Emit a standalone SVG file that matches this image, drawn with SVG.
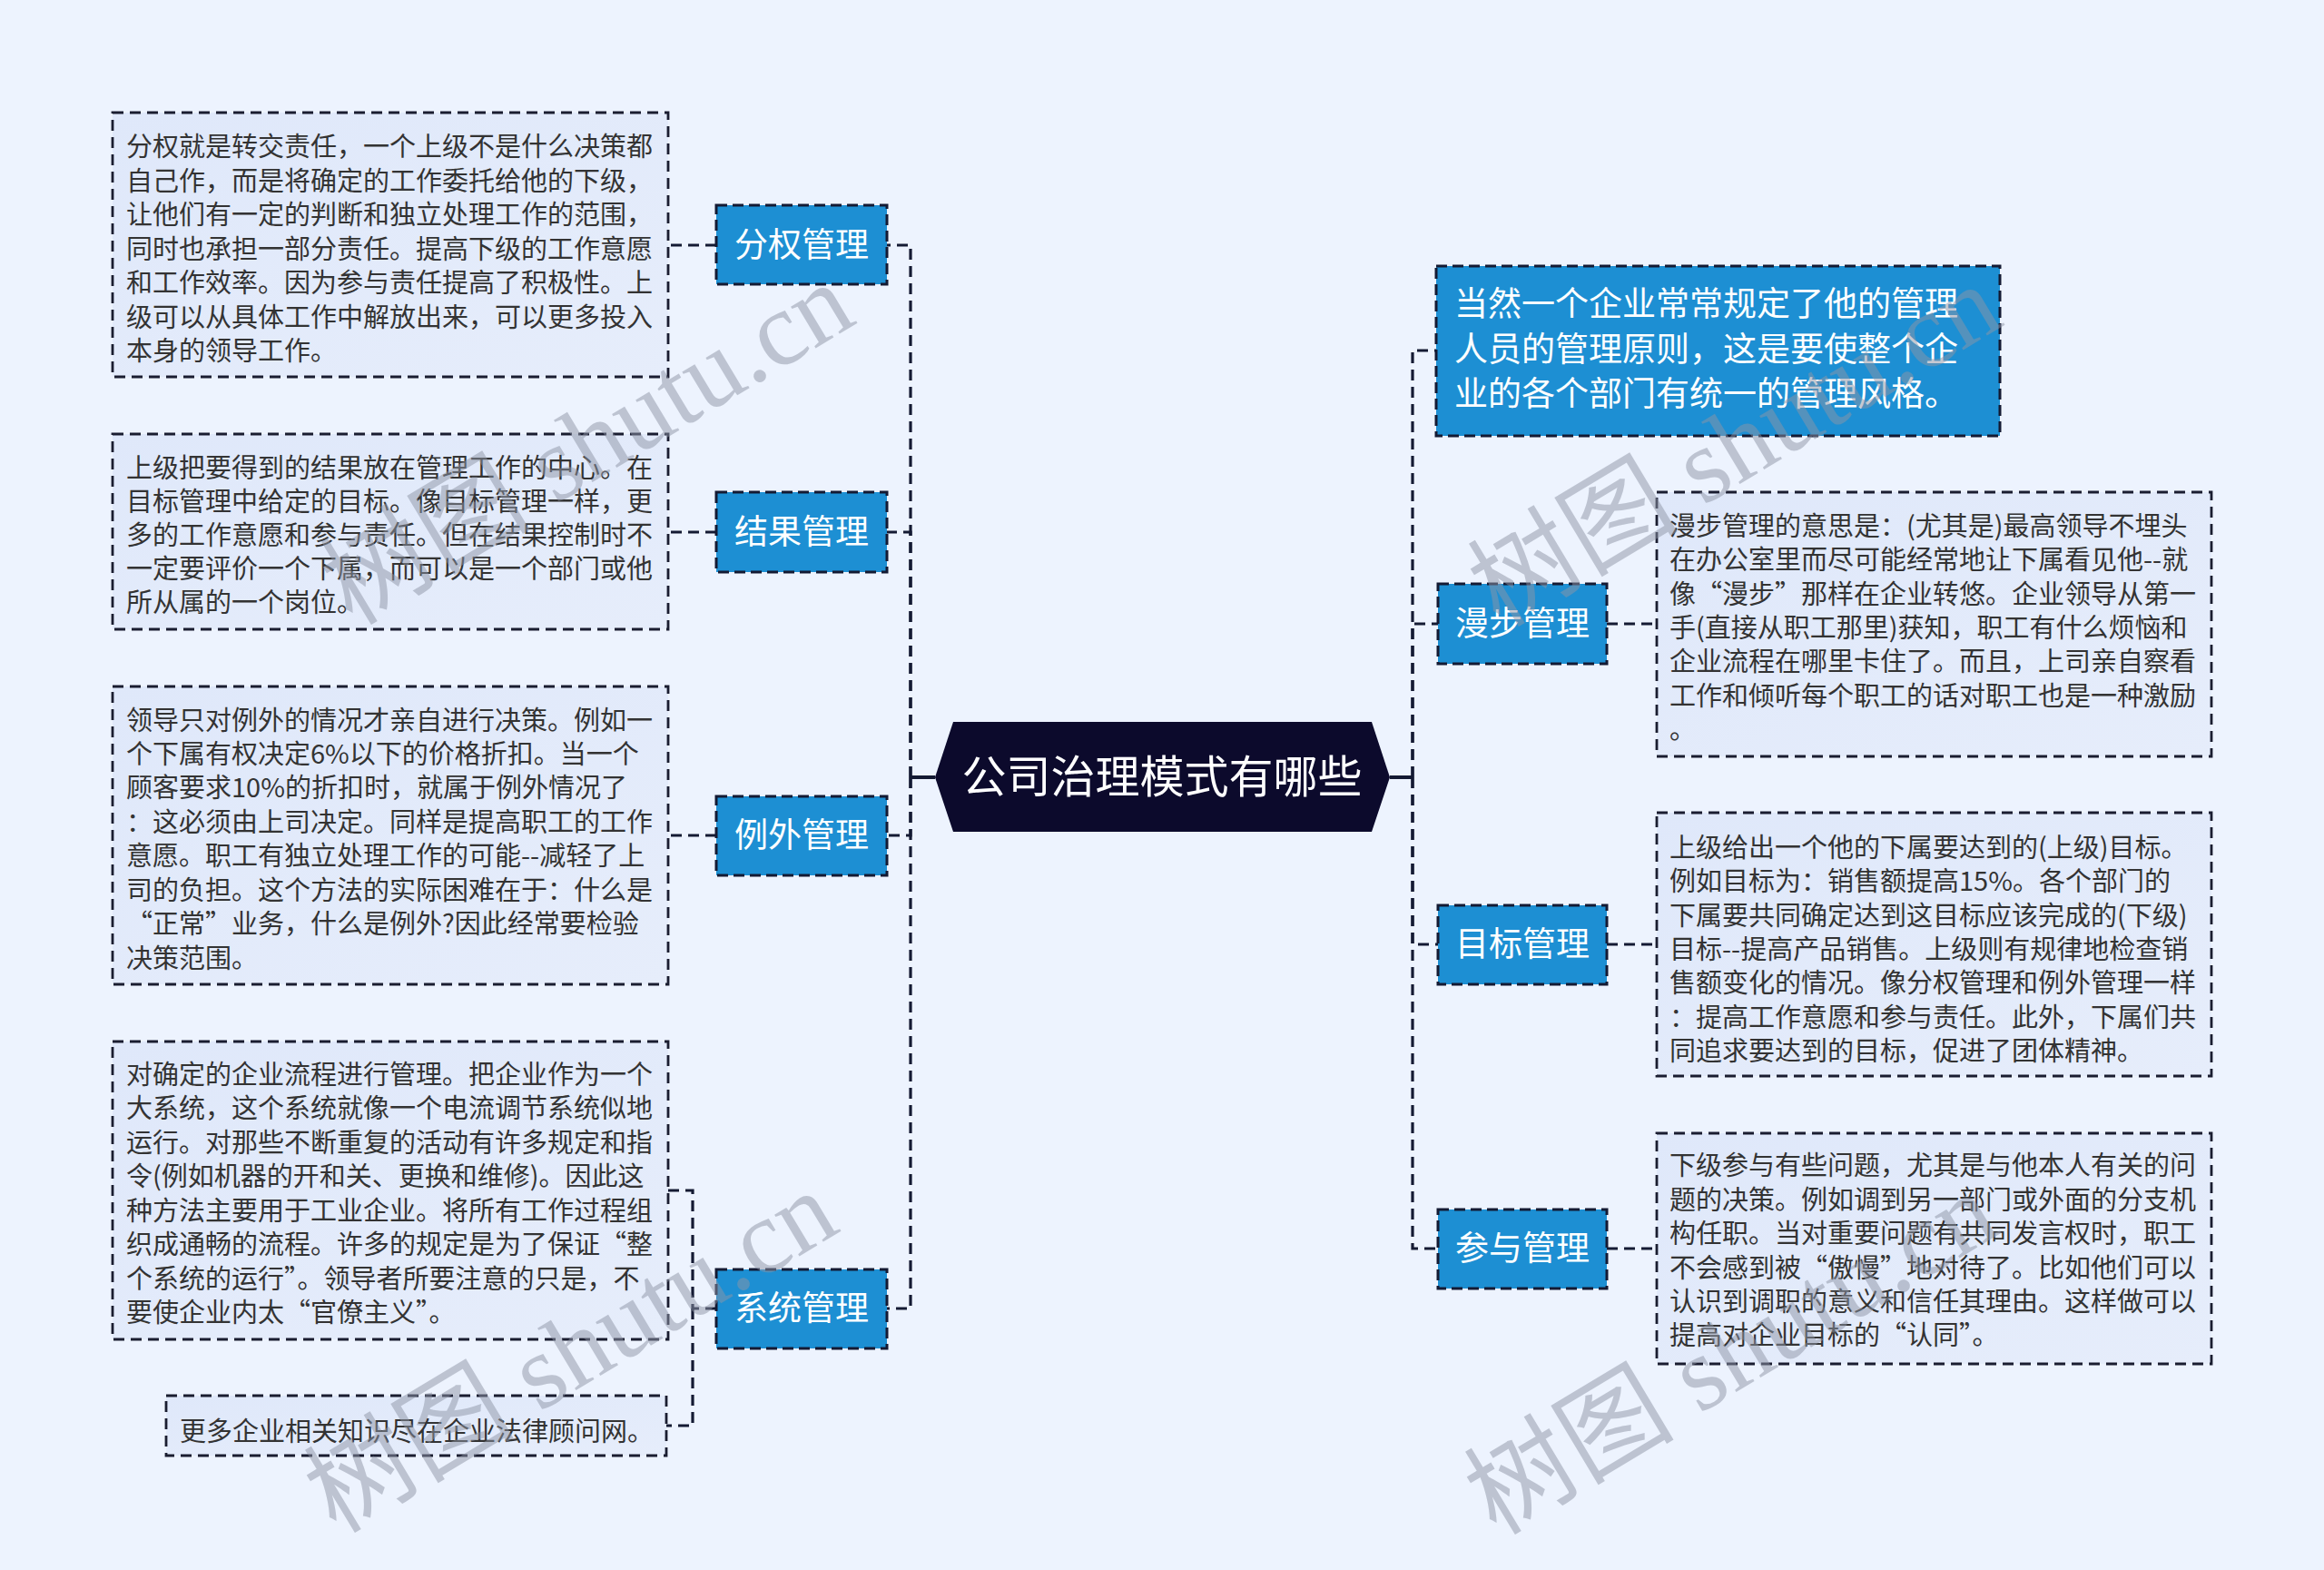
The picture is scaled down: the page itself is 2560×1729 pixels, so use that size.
<svg xmlns="http://www.w3.org/2000/svg" width="2560" height="1729" viewBox="0 0 2560 1729">
<defs>
<linearGradient id="tb" x1="0" y1="0" x2="1" y2="1">
<stop offset="0" stop-color="#dfe8fa"/>
<stop offset="1" stop-color="#e6edfb"/>
</linearGradient>
<style>
.bg{fill:#edf3fe}
.tbox{fill:url(#tb);stroke:#1a1d30;stroke-width:2.8;stroke-dasharray:12 7}
.bbox{fill:#1d8fd3;stroke:#141a33;stroke-width:3;stroke-dasharray:12 6}
.conn{fill:none;stroke:#141a33;stroke-width:3.2;stroke-dasharray:12 7}
.solid{fill:none;stroke:#141a33;stroke-width:4}
.t{font-family:"Noto Sans CJK SC","Noto Sans",sans-serif;font-size:29px;fill:#333333}
.bl{font-family:"Noto Sans CJK SC","Noto Sans",sans-serif;font-size:37px;fill:#ffffff;text-anchor:middle}
.tw{font-family:"Noto Sans CJK SC","Noto Sans",sans-serif;font-size:37px;fill:#ffffff}
.root{font-family:"Noto Sans CJK SC","Noto Sans",sans-serif;font-size:49px;fill:#ffffff;text-anchor:middle}
.wm{font-family:"Liberation Serif","Noto Sans CJK SC",serif;font-size:116px;fill:#8e95a6;opacity:0.5}
</style>
</defs>
<rect class="bg" x="0" y="0" width="2560" height="1729"/>

<g id="connectors">
<path class="solid" d="M1030,856 H1003"/>
<path class="conn" d="M1003,856 V270 H977"/>
<path class="conn" d="M1003,856 V586 H977"/>
<path class="conn" d="M1003,856 V920 H977"/>
<path class="conn" d="M1003,856 V1441 H977"/>
<path class="conn" d="M789,270 H736"/>
<path class="conn" d="M789,586 H736"/>
<path class="conn" d="M789,920 H736"/>
<path class="conn" d="M789,1441 H763 V1311 H736"/>
<path class="conn" d="M763,1441 V1570 H734"/>
<path class="solid" d="M1531,856 H1556"/>
<path class="conn" d="M1556,856 V386 H1582"/>
<path class="conn" d="M1556,856 V687 H1584"/>
<path class="conn" d="M1556,856 V1040 H1584"/>
<path class="conn" d="M1556,856 V1375 H1584"/>
<path class="conn" d="M1770,687 H1825"/>
<path class="conn" d="M1770,1040 H1825"/>
<path class="conn" d="M1770,1375 H1825"/>
</g>

<g id="root">
<polygon points="1030,856 1050,795 1511,795 1531,856 1511,916 1050,916" fill="#0c0a2c"/>
<text class="root" x="1280" y="873">公司治理模式有哪些</text>
</g>

<g id="n-fenquan">
<rect class="bbox" x="789" y="226" width="188" height="87"/>
<text class="bl" x="883" y="283">分权管理</text>
</g>
<g id="d-fenquan">
<rect class="tbox" x="124" y="124" width="612" height="291"/>
<text class="t">
<tspan x="139" y="172">分权就是转交责任，一个上级不是什么决策都</tspan>
<tspan x="139" y="210">自己作，而是将确定的工作委托给他的下级，</tspan>
<tspan x="139" y="247">让他们有一定的判断和独立处理工作的范围，</tspan>
<tspan x="139" y="285">同时也承担一部分责任。提高下级的工作意愿</tspan>
<tspan x="139" y="322">和工作效率。因为参与责任提高了积极性。上</tspan>
<tspan x="139" y="360">级可以从具体工作中解放出来，可以更多投入</tspan>
<tspan x="139" y="397">本身的领导工作。</tspan>
</text>
</g>

<g id="n-jieguo">
<rect class="bbox" x="789" y="542" width="188" height="88"/>
<text class="bl" x="883" y="599">结果管理</text>
</g>
<g id="d-jieguo">
<rect class="tbox" x="124" y="478" width="612" height="215"/>
<text class="t">
<tspan x="139" y="526">上级把要得到的结果放在管理工作的中心。在</tspan>
<tspan x="139" y="563">目标管理中给定的目标。像目标管理一样，更</tspan>
<tspan x="139" y="600">多的工作意愿和参与责任。但在结果控制时不</tspan>
<tspan x="139" y="637">一定要评价一个下属，而可以是一个部门或他</tspan>
<tspan x="139" y="674">所从属的一个岗位。</tspan>
</text>
</g>

<g id="n-liwai">
<rect class="bbox" x="789" y="877" width="188" height="87"/>
<text class="bl" x="883" y="933">例外管理</text>
</g>
<g id="d-liwai">
<rect class="tbox" x="124" y="756" width="612" height="328"/>
<text class="t">
<tspan x="139" y="804">领导只对例外的情况才亲自进行决策。例如一</tspan>
<tspan x="139" y="841">个下属有权决定6%以下的价格折扣。当一个</tspan>
<tspan x="139" y="878">顾客要求10%的折扣时，就属于例外情况了</tspan>
<tspan x="139" y="916">：这必须由上司决定。同样是提高职工的工作</tspan>
<tspan x="139" y="953">意愿。职工有独立处理工作的可能--减轻了上</tspan>
<tspan x="139" y="991">司的负担。这个方法的实际困难在于：什么是</tspan>
<tspan x="139" y="1028">“正常”业务，什么是例外?因此经常要检验</tspan>
<tspan x="139" y="1066">决策范围。</tspan>
</text>
</g>

<g id="n-xitong">
<rect class="bbox" x="789" y="1398" width="188" height="87"/>
<text class="bl" x="883" y="1454">系统管理</text>
</g>
<g id="d-xitong">
<rect class="tbox" x="124" y="1147" width="612" height="328"/>
<text class="t">
<tspan x="139" y="1194">对确定的企业流程进行管理。把企业作为一个</tspan>
<tspan x="139" y="1231">大系统，这个系统就像一个电流调节系统似地</tspan>
<tspan x="139" y="1269">运行。对那些不断重复的活动有许多规定和指</tspan>
<tspan x="139" y="1306">令(例如机器的开和关、更换和维修)。因此这</tspan>
<tspan x="139" y="1344">种方法主要用于工业企业。将所有工作过程组</tspan>
<tspan x="139" y="1381">织成通畅的流程。许多的规定是为了保证“整</tspan>
<tspan x="139" y="1419">个系统的运行”。领导者所要注意的只是，不</tspan>
<tspan x="139" y="1456">要使企业内太“官僚主义”。</tspan>
</text>
</g>
<g id="d-more">
<rect class="tbox" x="183" y="1537" width="551" height="66"/>
<text class="t" x="198" y="1587">更多企业相关知识尽在企业法律顾问网。</text>
</g>

<g id="n-top">
<rect class="bbox" x="1582" y="293" width="621" height="187"/>
<text class="tw">
<tspan x="1602" y="348">当然一个企业常常规定了他的管理</tspan>
<tspan x="1602" y="398">人员的管理原则，这是要使整个企</tspan>
<tspan x="1602" y="447">业的各个部门有统一的管理风格。</tspan>
</text>
</g>

<g id="n-manbu">
<rect class="bbox" x="1584" y="643" width="186" height="88"/>
<text class="bl" x="1677" y="700">漫步管理</text>
</g>
<g id="d-manbu">
<rect class="tbox" x="1825" y="542" width="611" height="291"/>
<text class="t">
<tspan x="1839" y="590">漫步管理的意思是：(尤其是)最高领导不埋头</tspan>
<tspan x="1839" y="627">在办公室里而尽可能经常地让下属看见他--就</tspan>
<tspan x="1839" y="665">像“漫步”那样在企业转悠。企业领导从第一</tspan>
<tspan x="1839" y="702">手(直接从职工那里)获知，职工有什么烦恼和</tspan>
<tspan x="1839" y="739">企业流程在哪里卡住了。而且，上司亲自察看</tspan>
<tspan x="1839" y="777">工作和倾听每个职工的话对职工也是一种激励</tspan>
<tspan x="1839" y="814">。</tspan>
</text>
</g>

<g id="n-mubiao">
<rect class="bbox" x="1584" y="997" width="186" height="87"/>
<text class="bl" x="1677" y="1053">目标管理</text>
</g>
<g id="d-mubiao">
<rect class="tbox" x="1825" y="895" width="611" height="290"/>
<text class="t">
<tspan x="1839" y="944">上级给出一个他的下属要达到的(上级)目标。</tspan>
<tspan x="1839" y="981">例如目标为：销售额提高15%。各个部门的</tspan>
<tspan x="1839" y="1019">下属要共同确定达到这目标应该完成的(下级)</tspan>
<tspan x="1839" y="1056">目标--提高产品销售。上级则有规律地检查销</tspan>
<tspan x="1839" y="1093">售额变化的情况。像分权管理和例外管理一样</tspan>
<tspan x="1839" y="1131">：提高工作意愿和参与责任。此外，下属们共</tspan>
<tspan x="1839" y="1168">同追求要达到的目标，促进了团体精神。</tspan>
</text>
</g>

<g id="n-canyu">
<rect class="bbox" x="1584" y="1332" width="186" height="87"/>
<text class="bl" x="1677" y="1388">参与管理</text>
</g>
<g id="d-canyu">
<rect class="tbox" x="1825" y="1248" width="611" height="254"/>
<text class="t">
<tspan x="1839" y="1294">下级参与有些问题，尤其是与他本人有关的问</tspan>
<tspan x="1839" y="1332">题的决策。例如调到另一部门或外面的分支机</tspan>
<tspan x="1839" y="1369">构任职。当对重要问题有共同发言权时，职工</tspan>
<tspan x="1839" y="1407">不会感到被“傲慢”地对待了。比如他们可以</tspan>
<tspan x="1839" y="1444">认识到调职的意义和信任其理由。这样做可以</tspan>
<tspan x="1839" y="1481">提高对企业目标的“认同”。</tspan>
</text>
</g>

<g id="watermarks">
<text class="wm" x="388" y="690" transform="rotate(-31 388 690)">树图 shutu.cn</text>
<text class="wm" x="370" y="1690" transform="rotate(-31 370 1690)">树图 shutu.cn</text>
<text class="wm" x="1652" y="692" transform="rotate(-31 1652 692)">树图 shutu.cn</text>
<text class="wm" x="1648" y="1692" transform="rotate(-31 1648 1692)">树图 shutu.cn</text>
</g>
</svg>
